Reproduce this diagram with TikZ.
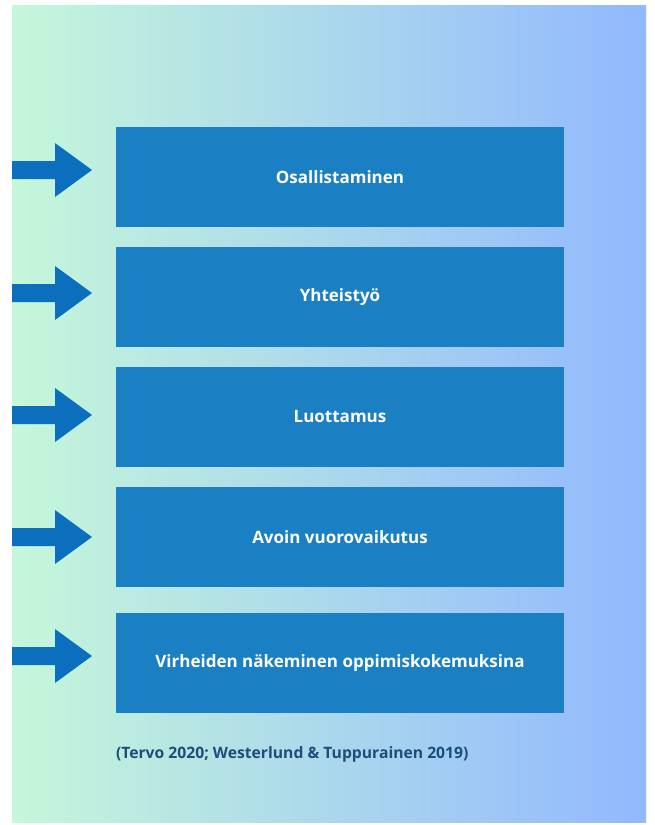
\documentclass[tikz,border=0pt]{standalone}
\usepackage{fontspec}
\setmainfont{Open Sans}
\definecolor{mintleft}{HTML}{C5F7DA}
\definecolor{skyright}{HTML}{92B8FE}
\definecolor{boxblue}{HTML}{1B7FC3}
\definecolor{arrowblue}{HTML}{0B6FBE}
\definecolor{navytext}{HTML}{1D4E7A}
\tikzset{
  kohta/.style={fill=boxblue, text=white, font=\bfseries\fontsize{17}{20}\selectfont,
    minimum width=448pt, minimum height=100pt, inner sep=0pt},
  nuoli/.style={fill=arrowblue}
}
\begin{document}
\begin{tikzpicture}[x=1pt,y=-1pt]
\useasboundingbox (0,0) rectangle (654,825);
\fill[white] (0,0) rectangle (654,825);
\shade[left color=mintleft, right color=skyright] (12,5) rectangle (646,822);
% laatikot
\node[kohta] (b1) at (340,177) {Osallistaminen};
\node[kohta] (b2) at (340,297) {Yhteistyö};
\node[kohta] (b3) at (340,417) {Luottamus};
\node[kohta] (b4) at (340,537) {Avoin vuorovaikutus};
\node[kohta] (b5) at (340,663) {Virheiden näkeminen oppimiskokemuksina};
% nuolet
\fill[nuoli] (12,161) -- (55,161) -- (55,143) -- (92,170) -- (55,197) -- (55,179) -- (12,179) -- cycle;
\fill[nuoli] (12,284) -- (55,284) -- (55,266) -- (92,293) -- (55,320) -- (55,302) -- (12,302) -- cycle;
\fill[nuoli] (12,406) -- (55,406) -- (55,388) -- (92,415) -- (55,442) -- (55,424) -- (12,424) -- cycle;
\fill[nuoli] (12,528) -- (55,528) -- (55,510) -- (92,537) -- (55,564) -- (55,546) -- (12,546) -- cycle;
\fill[nuoli] (12,647) -- (55,647) -- (55,629) -- (92,656) -- (55,683) -- (55,665) -- (12,665) -- cycle;
% lähde
\node[anchor=west, text=navytext, font=\bfseries\fontsize{15.7}{18}\selectfont, inner sep=0pt]
  (lahde) at (b5.west |- 0,754) {(Tervo 2020; Westerlund \& Tuppurainen 2019)};
\end{tikzpicture}
\end{document}
